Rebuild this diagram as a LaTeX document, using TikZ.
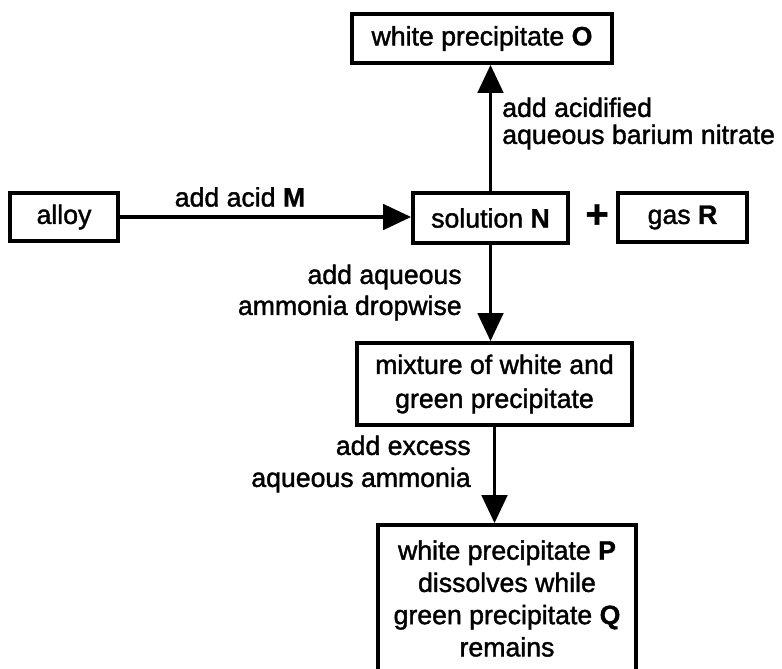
\documentclass[tikz,border=0pt]{standalone}
\usepackage{fontspec}
\setmainfont{Liberation Sans}[UprightFeatures={FakeBold=1.5}, BoldFeatures={FakeBold=1}]
\usetikzlibrary{arrows.meta}
\begin{document}
\begin{tikzpicture}[x=0.75pt,y=-0.75pt,
  every node/.style={font=\fontsize{20}{22}\selectfont, inner sep=0pt},
  box/.style={draw, line width=2.8pt, align=center},
  flow/.style={line width=2.8pt, -{Triangle[length=21pt,width=19pt]}},
  lbl/.style={inner sep=0pt}]
\useasboundingbox (0,0) rectangle (782,668);
\clip (0,0) rectangle (782,668);
% boxes
\node[box, minimum width=195pt, minimum height=36.75pt] (O) at (482,38.5) {white precipitate \textbf{O}};
\node[box, minimum width=81pt, minimum height=36pt] (alloy) at (64,217) {alloy};
\node[box, minimum width=116.25pt, minimum height=37.5pt] (N) at (490.5,218) {solution \textbf{N}};
\node (plus) at (597,216) {\fontsize{30}{30}\selectfont\textbf{+}};
\node[box, minimum width=96.75pt, minimum height=36.75pt] (R) at (682.5,217.5) {gas \textbf{R}};
\node[box, minimum width=206.25pt, minimum height=61.5pt,
      font=\fontsize{20}{25.5}\selectfont] (mix) at (494.5,384) {mixture of white and\\green precipitate};
\node[box, minimum width=193.5pt, minimum height=110.25pt,
      font=\fontsize{20}{24.2}\selectfont] (final) at (507,598.5)
  {white precipitate \textbf{P}\\dissolves while\\green precipitate \textbf{Q}\\remains};
% connectors
\draw[flow] (alloy.east) -- (alloy.east -| N.west);
\draw[flow] (N.north) -- (N.north |- O.south);
\draw[flow] (N.south) -- (N.south |- mix.north);
\draw[flow] (mix.south) -- (mix.south |- final.north);
% labels
\node[lbl] (lM) at (240,197) {add acid \textbf{M}};
\node[lbl, anchor=west, align=left, font=\fontsize{20}{20.25}\selectfont] (lBa) at (502,123.5)
  {add acidified\\aqueous barium nitrate};
\node[lbl, anchor=east, align=right, font=\fontsize{20}{23.25}\selectfont] (lNH) at (462,292.5)
  {add aqueous\\ammonia dropwise};
\node[lbl, anchor=east, align=right, font=\fontsize{20}{24}\selectfont] (lEx) at (471,464)
  {add excess\\aqueous ammonia};
\end{tikzpicture}
\end{document}
